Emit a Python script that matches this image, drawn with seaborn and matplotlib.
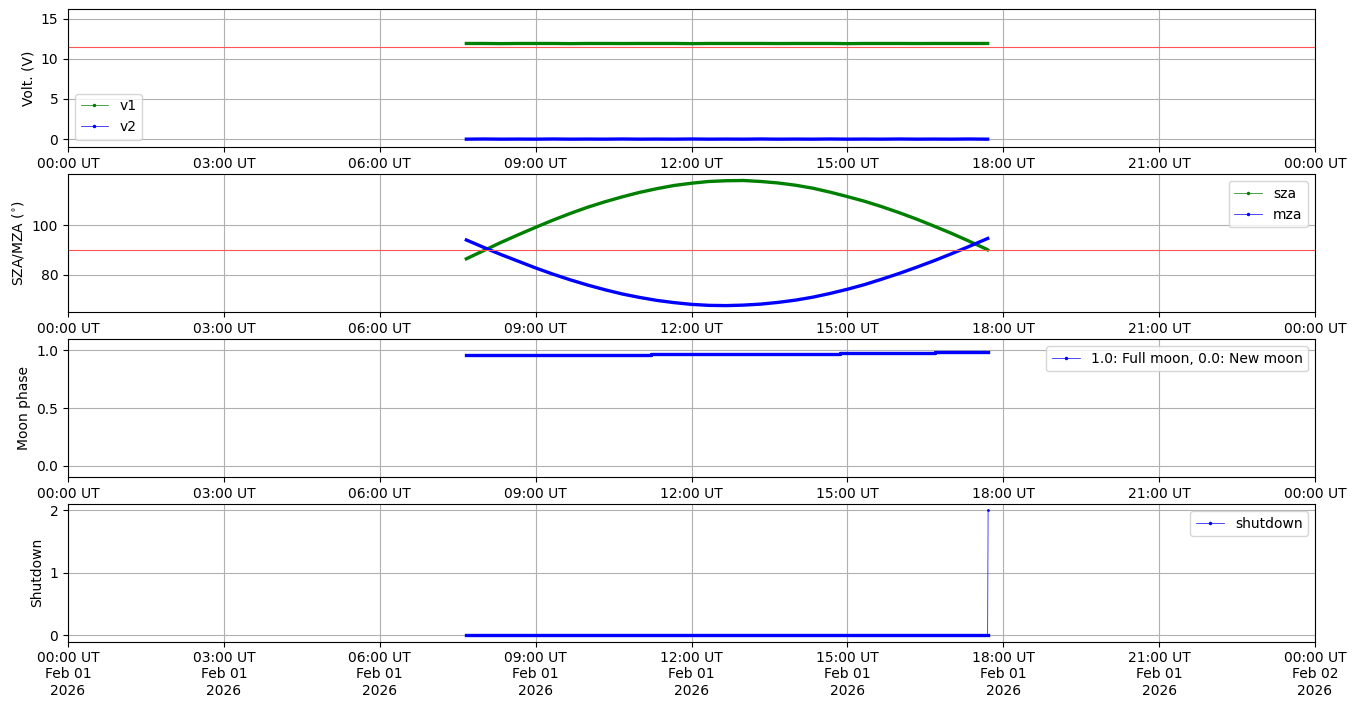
import numpy as np
import pandas as pd
import seaborn as sb
import matplotlib
matplotlib.use('Agg')
import matplotlib.pyplot as plt
import matplotlib.dates as mdates
from matplotlib.lines import Line2D

# sample times (20 min), 07:40 .. 17:40 plus last sample at 17:42
times = pd.to_datetime(['2026-02-01 07:40', '2026-02-01 08:00', '2026-02-01 08:20', '2026-02-01 08:40',
                        '2026-02-01 09:00', '2026-02-01 09:20', '2026-02-01 09:40', '2026-02-01 10:00',
                        '2026-02-01 10:20', '2026-02-01 10:40', '2026-02-01 11:00', '2026-02-01 11:20',
                        '2026-02-01 11:40', '2026-02-01 12:00', '2026-02-01 12:20', '2026-02-01 12:40',
                        '2026-02-01 13:00', '2026-02-01 13:20', '2026-02-01 13:40', '2026-02-01 14:00',
                        '2026-02-01 14:20', '2026-02-01 14:40', '2026-02-01 15:00', '2026-02-01 15:20',
                        '2026-02-01 15:40', '2026-02-01 16:00', '2026-02-01 16:20', '2026-02-01 16:40',
                        '2026-02-01 17:00', '2026-02-01 17:20', '2026-02-01 17:40', '2026-02-01 17:42'])

v1 = [11.90, 11.90, 11.88, 11.90, 11.90, 11.90, 11.88, 11.90, 11.90, 11.89, 11.90, 11.90,
      11.90, 11.88, 11.90, 11.90, 11.90, 11.90, 11.89, 11.90, 11.90, 11.90, 11.88, 11.90,
      11.90, 11.90, 11.89, 11.90, 11.90, 11.90, 11.90, 11.90]
v2 = [0.00, 0.02, 0.00, 0.01, 0.00, 0.02, 0.00, 0.01, 0.00, 0.02, 0.00, 0.01,
      0.00, 0.02, 0.00, 0.01, 0.00, 0.02, 0.00, 0.01, 0.00, 0.02, 0.00, 0.01,
      0.00, 0.02, 0.00, 0.01, 0.00, 0.02, 0.00, 0.00]

sza = [86.4, 89.7, 93.0, 96.1, 99.1, 102.0, 104.7, 107.2, 109.4, 111.4, 113.2, 114.7,
       116.0, 116.9, 117.6, 117.9, 118.0, 117.6, 117.0, 116.1, 114.9, 113.3, 111.5, 109.6,
       107.4, 105.0, 102.4, 99.6, 96.7, 93.6, 90.4, 90.0]
mza = [94.0, 91.0, 88.1, 85.4, 82.7, 80.2, 77.9, 75.8, 73.9, 72.2, 70.8, 69.6,
       68.7, 68.0, 67.6, 67.5, 67.7, 68.1, 68.8, 69.7, 70.9, 72.4, 74.1, 76.0,
       78.2, 80.5, 83.0, 85.6, 88.4, 91.3, 94.3, 94.6]

phase_times = pd.to_datetime(['2026-02-01 07:40', '2026-02-01 11:13', '2026-02-01 14:52',
                              '2026-02-01 16:41', '2026-02-01 17:42'])
phase = [0.957, 0.965, 0.977, 0.985, 0.985]

shut_times = pd.to_datetime(['2026-02-01 07:40:00', '2026-02-01 17:42:00', '2026-02-01 17:42:30'])
shutdown = [0, 0, 2]

v_limit = 11.5
sza_limit = 90

df = pd.DataFrame({'time': times, 'v1': v1, 'v2': v2, 'sza': sza, 'mza': mza})
df_phase = pd.DataFrame({'time': phase_times, 'phase': phase})
df_shut = pd.DataFrame({'time': shut_times, 'shutdown': shutdown})

fig = plt.figure(figsize=(13.56, 7.07), dpi=100)
left, width, height = 68 / 1356, 1247 / 1356, 137.5 / 707
tops = [9.3, 174.3, 339.3, 504]
axes = [fig.add_axes([left, 1 - (t + 137.5) / 707, width, height]) for t in tops]

thick = 2.4
limit_col = '#ff5555'


def legend_handle(col, lab):
    return Line2D([], [], color=col, lw=0.5, marker='.', markersize=3, label=lab)


# volts
ax = axes[0]
sb.lineplot(data=df, x='time', y='v1', ax=ax, color='green', lw=thick, estimator=None)
sb.lineplot(data=df, x='time', y='v2', ax=ax, color='blue', lw=thick, estimator=None)
ax.axhline(v_limit, color=limit_col, lw=0.8)
ax.set_ylim(-0.95, 16.15)
ax.set_yticks([0, 5, 10, 15])
ax.set_ylabel('Volt. (V)')
ax.legend(handles=[legend_handle('green', 'v1'), legend_handle('blue', 'v2')], loc='lower left')

# zenith angles
ax = axes[1]
sb.lineplot(data=df, x='time', y='sza', ax=ax, color='green', lw=thick, estimator=None)
sb.lineplot(data=df, x='time', y='mza', ax=ax, color='blue', lw=thick, estimator=None)
ax.axhline(sza_limit, color=limit_col, lw=0.8)
ax.set_ylim(65.0, 120.5)
ax.set_yticks([80, 100])
ax.set_ylabel('SZA/MZA ($^{\\circ}$)')
ax.legend(handles=[legend_handle('green', 'sza'), legend_handle('blue', 'mza')], loc='upper right')

# moon phase
ax = axes[2]
sb.lineplot(data=df_phase, x='time', y='phase', ax=ax, color='blue', lw=thick,
            estimator=None, drawstyle='steps-post')
ax.set_ylim(-0.095, 1.095)
ax.set_yticks([0.0, 0.5, 1.0])
ax.set_ylabel('Moon phase')
ax.legend(handles=[legend_handle('blue', '1.0: Full moon, 0.0: New moon')], loc='upper right')

# shutdown
ax = axes[3]
sb.lineplot(data=df_shut, x='time', y='shutdown', ax=ax, color='blue', lw=0.5,
            marker='.', markersize=4, markeredgewidth=0, estimator=None)
ax.plot(df_shut['time'][:2], df_shut['shutdown'][:2], color='blue', lw=thick)
ax.set_ylim(-0.1, 2.1)
ax.set_yticks([0, 1, 2])
ax.set_ylabel('Shutdown')
ax.legend(handles=[legend_handle('blue', 'shutdown')], loc='upper right')

for i, ax in enumerate(axes):
    ax.set_xlim(pd.Timestamp('2026-02-01 00:00'), pd.Timestamp('2026-02-02 00:00'))
    ax.xaxis.set_major_locator(mdates.HourLocator(interval=3))
    if i == 3:
        ax.xaxis.set_major_formatter(mdates.DateFormatter('%H:%M UT\n%b %d\n%Y'))
    else:
        ax.xaxis.set_major_formatter(mdates.DateFormatter('%H:%M UT'))
    ax.set_xlabel('')
    ax.grid(True)
    for lab in ax.get_xticklabels():
        lab.set_rotation(0)
        lab.set_ha('center')

fig.savefig('out.png', dpi=100)
